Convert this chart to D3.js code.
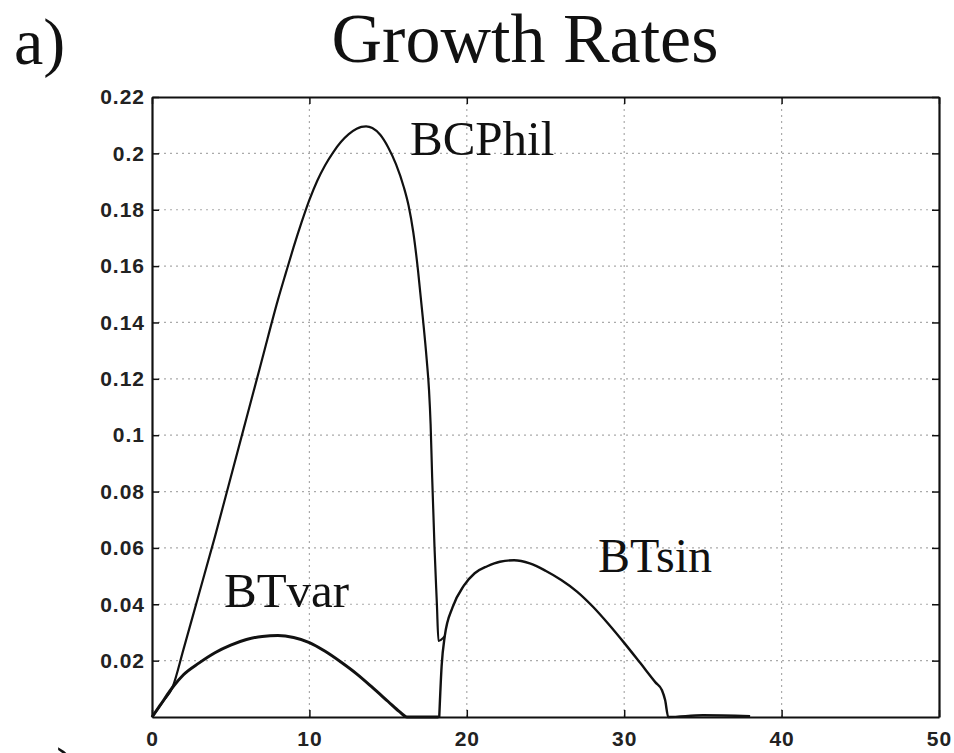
<!DOCTYPE html>
<html>
<head>
<meta charset="utf-8">
<script src="https://cdn.jsdelivr.net/npm/d3@7"></script>
<style>
  body { margin: 0; background: #fff; }
  .tick text { font-family: "Liberation Sans", Arial, sans-serif; font-weight: bold; font-size: 21px; letter-spacing: 1px; fill: #222; }
  .lbl { font-family: "Liberation Serif", "Times New Roman", serif; fill: #111; }
</style>
</head>
<body>
<div id="chart"></div>
<script>
// tick values
var xTicks = [0, 10, 20, 30, 40, 50];
var yTicks = [0.02, 0.04, 0.06, 0.08, 0.1, 0.12, 0.14, 0.16, 0.18, 0.2, 0.22];

// BCPhil curve
var bcphilX = [0, 0.7, 1.3, 2, 3, 4, 5, 6, 7, 8, 8.5, 9, 9.5, 10, 10.5, 11, 11.5, 12, 12.5, 13, 13.3, 13.6, 14, 14.5, 15, 15.5, 16, 16.3, 16.6, 16.9, 17.2, 17.45, 17.6, 17.7, 17.8, 17.95, 18.1, 18.2, 18.6];
var bcphilY = [0, 0.0055, 0.0105, 0.024, 0.044, 0.064, 0.085, 0.106, 0.127, 0.148, 0.1575, 0.1668, 0.1755, 0.1835, 0.1903, 0.1958, 0.2003, 0.204, 0.2068, 0.2087, 0.2094, 0.2096, 0.209, 0.2066, 0.2022, 0.1962, 0.188, 0.1815, 0.172, 0.1585, 0.142, 0.127, 0.116, 0.104, 0.085, 0.06, 0.04, 0.027, 0.0287];

// BTvar curve
var btvarX = [0, 0.5, 1.36, 2, 3, 4, 5, 6, 7, 8, 9, 10, 11, 12, 13, 14, 15, 15.7, 16.2, 18.2];
var btvarY = [0, 0.004, 0.0109, 0.015, 0.0192, 0.0228, 0.0255, 0.0275, 0.0286, 0.0289, 0.0282, 0.0264, 0.0233, 0.0195, 0.0153, 0.0105, 0.0055, 0.002, 0, 0];

// BTsin curve
var btsinX = [18.25, 18.4, 18.6, 19.1, 19.8, 20.5, 21.3, 22.1, 23, 24, 25, 26, 27, 28, 29, 30, 31, 32, 32.4, 32.6, 32.8, 35, 38];
var btsinY = [0, 0.018, 0.0287, 0.039, 0.0465, 0.051, 0.0535, 0.0551, 0.0556, 0.0545, 0.0519, 0.0486, 0.0445, 0.0392, 0.0330, 0.0263, 0.0193, 0.0122, 0.0095, 0.006, 0, 0.0006, 0.0003];

var width = 954, height = 753;
var mLeft = 152, mRight = 939, mTop = 97, mBottom = 717;

var svg = d3.select("#chart").append("svg")
    .attr("width", width)
    .attr("height", height);

var x = d3.scaleLinear().domain([0, 50]).range([mLeft, mRight]);
var y = d3.scaleLinear().domain([0, 0.22]).range([mBottom, mTop]);

// grid
svg.append("g").selectAll("line")
    .data(xTicks.slice(1, -1))
    .enter().append("line")
    .attr("x1", function (d) { return x(d); })
    .attr("x2", function (d) { return x(d); })
    .attr("y1", mTop).attr("y2", mBottom)
    .attr("stroke", "#aaa").attr("stroke-width", 1.2)
    .attr("stroke-dasharray", "2,4");
svg.append("g").selectAll("line")
    .data(yTicks.slice(0, -1))
    .enter().append("line")
    .attr("y1", function (d) { return y(d); })
    .attr("y2", function (d) { return y(d); })
    .attr("x1", mLeft).attr("x2", mRight)
    .attr("stroke", "#aaa").attr("stroke-width", 1.2)
    .attr("stroke-dasharray", "2,4");

// axes, ticks pointing inward
svg.append("g")
    .attr("transform", "translate(0," + mBottom + ")")
    .call(d3.axisBottom(x).tickValues(xTicks).tickSizeInner(-7).tickSizeOuter(0).tickPadding(14).tickFormat(d3.format("d")));
svg.append("g")
    .attr("transform", "translate(" + mLeft + ",0)")
    .call(d3.axisLeft(y).tickValues(yTicks).tickSizeInner(-7).tickSizeOuter(0).tickPadding(7).tickFormat(function (d) { return String(+d.toFixed(2)); }));
svg.append("g")
    .attr("transform", "translate(0," + mTop + ")")
    .call(d3.axisTop(x).tickValues(xTicks).tickSizeInner(-7).tickSizeOuter(0).tickFormat(""));
svg.append("g")
    .attr("transform", "translate(" + mRight + ",0)")
    .call(d3.axisRight(y).tickValues(yTicks).tickSizeInner(-7).tickSizeOuter(0).tickFormat(""));
svg.selectAll(".domain").attr("stroke", "#111").attr("stroke-width", 2.2);
svg.selectAll(".tick line").attr("stroke", "#111").attr("stroke-width", 1.5);

// curves
var line = d3.line()
    .x(function (d) { return x(d[0]); })
    .y(function (d) { return y(d[1]); })
    .curve(d3.curveMonotoneX);

[[bcphilX, bcphilY, 2.2], [btvarX, btvarY, 3], [btsinX, btsinY, 2.4]].forEach(function (s) {
    svg.append("path")
        .datum(d3.zip(s[0], s[1]))
        .attr("d", line)
        .attr("fill", "none")
        .attr("stroke", "#111")
        .attr("stroke-width", s[2])
        .attr("stroke-linejoin", "round");
});

// labels
svg.append("text").attr("class", "lbl").attr("x", 14).attr("y", 64).attr("font-size", 66).text("a)");
svg.append("text").attr("class", "lbl").attr("x", 56).attr("y", 793).attr("font-size", 66).text(")");
svg.append("text").attr("class", "lbl").attr("x", 525).attr("y", 62).attr("font-size", 70)
    .attr("text-anchor", "middle").text("Growth Rates");
svg.append("text").attr("class", "lbl").attr("x", 410).attr("y", 155).attr("font-size", 49).text("BCPhil");
svg.append("text").attr("class", "lbl").attr("x", 224).attr("y", 607).attr("font-size", 49).text("BTvar");
svg.append("text").attr("class", "lbl").attr("x", 598).attr("y", 572).attr("font-size", 48).text("BTsin");
</script>
</body>
</html>
